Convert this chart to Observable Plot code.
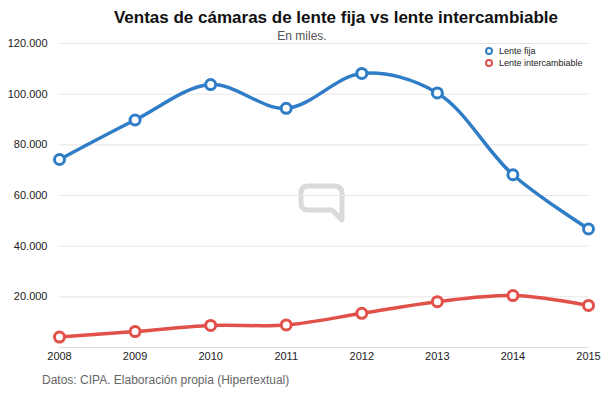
<!DOCTYPE html>
<html>
<head>
<meta charset="utf-8">
<script src="https://cdn.jsdelivr.net/npm/d3@7"></script>
<script src="https://cdn.jsdelivr.net/npm/@observablehq/plot@0.6"></script>
<style>
  html, body { margin: 0; padding: 0; background: #fff; }
  body { font-family: "Liberation Sans", Arial, Helvetica, sans-serif; }
  #wrap { position: relative; width: 610px; height: 406px; overflow: hidden; }
  #chart { position: absolute; left: 0; top: 0; }
  #mark { position: absolute; left: 296px; top: 180px; }
  .abs { position: absolute; white-space: nowrap; }
  #title { left: 0; width: 672px; top: 8px; text-align: center; font-size: 17px; font-weight: bold; color: #111; }
  #subtitle { left: 0; width: 604px; top: 29px; text-align: center; font-size: 12px; color: #555; }
  #caption { left: 42px; top: 373px; font-size: 12px; color: #666; }
  #legend { left: 485px; top: 45px; font-size: 9px; color: #222; line-height: 12px; }
  #legend .item { display: flex; align-items: center; }
  #legend .sw { display: inline-block; width: 4px; height: 4px; border-radius: 50%; border: 2px solid; margin-right: 6px; box-sizing: content-box; }
</style>
</head>
<body>
<div id="wrap">
  <svg id="mark" width="54" height="48" viewBox="0 0 54 48">
    <path d="M12,6 H38 Q46,6 46,14 V40 L36,30 H12 Q5,30 5,23 V13 Q5,6 12,6 Z" fill="none" stroke="#dadada" stroke-width="5" stroke-linejoin="round"/>
  </svg>
  <div id="chart"></div>
  <div id="title" class="abs">Ventas de cámaras de lente fija vs lente intercambiable</div>
  <div id="subtitle" class="abs">En miles.</div>
  <div id="legend" class="abs"></div>
  <div id="caption" class="abs">Datos: CIPA. Elaboración propia (Hipertextual)</div>
</div>
<script>
const years = [2008, 2009, 2010, 2011, 2012, 2013, 2014, 2015];
const fija = [74200, 89800, 103800, 94400, 108200, 100500, 68200, 46800];
const intercambiable = [4100, 6300, 8700, 8900, 13500, 18100, 20500, 16600];
const seriesNames = ["Lente fija", "Lente intercambiable"];
const seriesColors = ["#2f7dc6", "#e2504a"];
const yTicks = [20000, 40000, 60000, 80000, 100000, 120000];

const data = [];
years.forEach((yr, i) => data.push({year: yr, value: fija[i], serie: seriesNames[0]}));
years.forEach((yr, i) => data.push({year: yr, value: intercambiable[i], serie: seriesNames[1]}));

const fmt = d => d3.format(",")(d).replace(/,/g, ".");

const chart = Plot.plot({
  width: 610,
  height: 406,
  marginLeft: 59,
  marginRight: 22,
  marginTop: 43,
  marginBottom: 59,
  style: {fontFamily: '"Liberation Sans", Arial, Helvetica, sans-serif', fontSize: "11px", color: "#222", background: "transparent"},
  x: {domain: [2008, 2015], label: null},
  y: {domain: [0, 120000], label: null},
  color: {domain: seriesNames, range: seriesColors},
  marks: [
    Plot.gridY(yTicks, {stroke: "#e6e6e6", strokeOpacity: 1, strokeWidth: 1}),
    Plot.ruleY([0], {stroke: "#dcdcdc", strokeWidth: 1}),
    Plot.axisY(yTicks, {tickSize: 0, tickPadding: 12, tickFormat: fmt, fontSize: 11}),
    Plot.axisX(years, {tickSize: 0, tickPadding: 5, tickFormat: d => String(d), fontSize: 11}),
    Plot.line(data, {x: "year", y: "value", z: "serie", stroke: "serie", strokeWidth: 3.5, curve: "catmull-rom"}),
    Plot.dot(data, {x: "year", y: "value", stroke: "serie", fill: "white", r: 5, strokeWidth: 3})
  ]
});
document.getElementById("chart").appendChild(chart);

const legend = document.getElementById("legend");
seriesNames.forEach((name, i) => {
  const it = document.createElement("div");
  it.className = "item";
  const sw = document.createElement("span");
  sw.className = "sw";
  sw.style.borderColor = seriesColors[i];
  it.appendChild(sw);
  it.appendChild(document.createTextNode(name));
  legend.appendChild(it);
});
</script>
</body>
</html>
